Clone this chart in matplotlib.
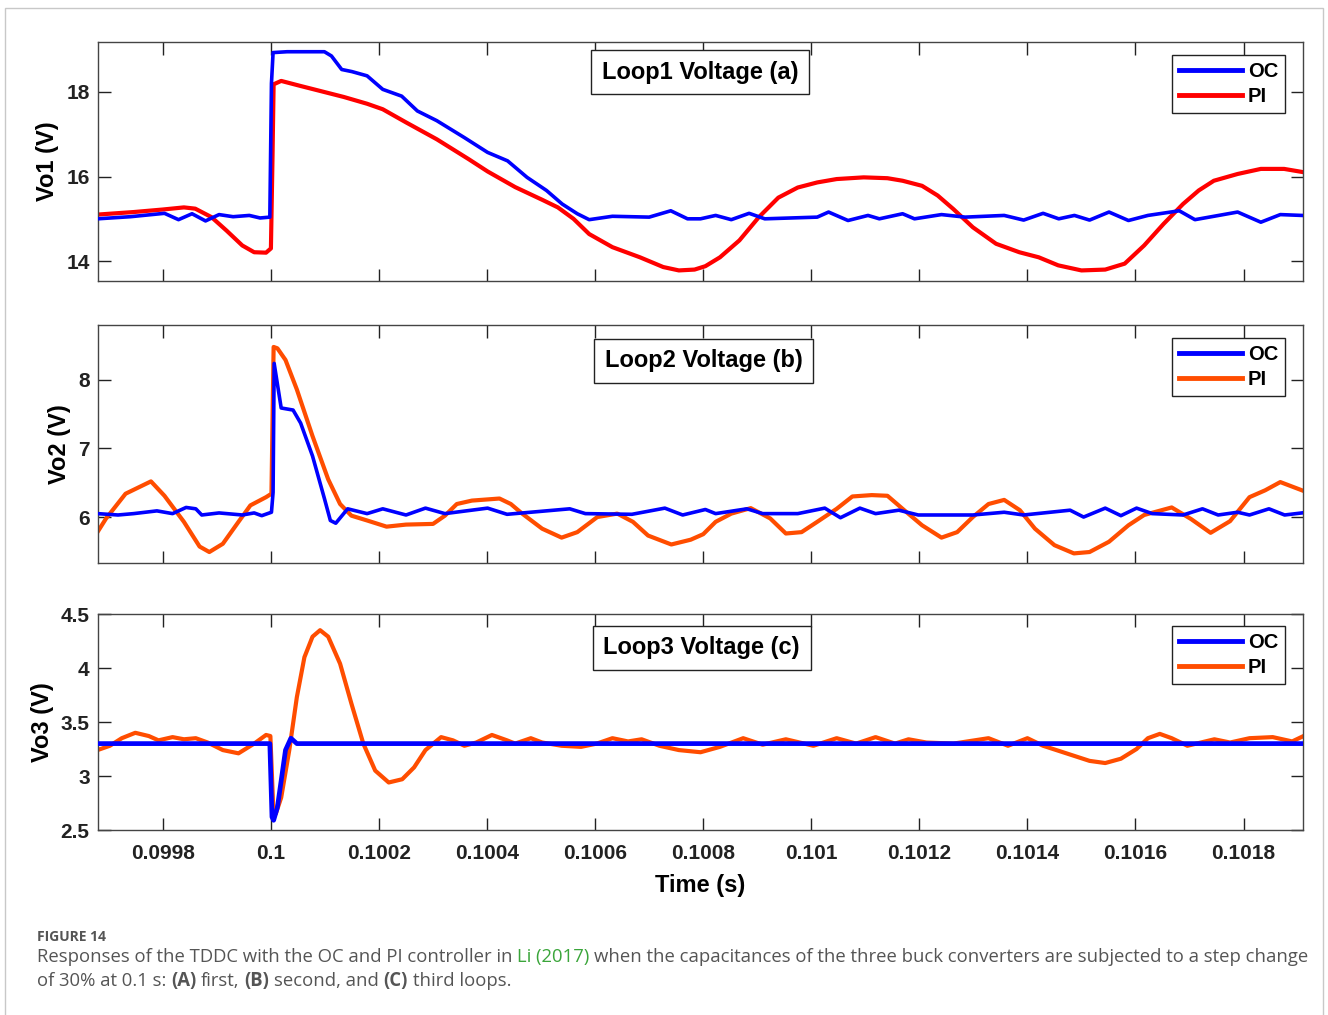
import matplotlib
matplotlib.use("Agg")
import matplotlib.pyplot as plt
from matplotlib.lines import Line2D
from matplotlib.patches import Rectangle
import numpy as np

# ---------------- data (time offsets in microseconds after t = 0.1 s) ----------------
STEP_TIME = 0.1

# Panel (a) Loop1
t1_oc_us = [-321, -260, -197, -171, -146, -121, -96, -70, -40, -20, -2, 1, 4, 30, 99, 112, 131, 150, 178,
            207, 242, 271, 307, 358, 401, 438, 474, 510, 539, 567, 589, 632, 700, 740, 771,
            795, 823, 852, 885, 914, 1011, 1032, 1068, 1105, 1126, 1169, 1191, 1241, 1285, 1357, 1393,
            1429, 1458, 1487, 1515, 1551, 1587, 1623, 1681, 1710, 1789, 1832, 1868, 1908]
v1_oc = [15.00, 15.05, 15.13, 14.98, 15.12, 14.95, 15.10, 15.05, 15.08, 15.02, 15.04, 18.20, 18.93, 18.95, 18.95,
         18.85, 18.53, 18.48, 18.38, 18.06, 17.90, 17.55, 17.32, 16.92, 16.57, 16.37, 15.98, 15.67, 15.35,
         15.12, 14.98, 15.06, 15.04, 15.19, 15.00,
         15.00, 15.08, 14.98, 15.13, 15.00, 15.04, 15.16, 14.96, 15.08, 15.00, 15.12, 15.00, 15.10, 15.04,
         15.08, 14.97, 15.13, 15.00, 15.08, 14.97, 15.16, 14.96, 15.08, 15.19, 14.98, 15.16, 14.92, 15.10, 15.08]

t1_pi_us = [-321, -254, -200, -161, -140, -110, -82, -53, -31, -9, 0, 3, 5, 19, 55, 92, 135, 178, 207, 250,
            307, 366, 401, 452, 502, 531, 560, 589, 632, 683, 726, 755, 784, 804,
            831, 867, 903, 939, 975, 1011, 1047, 1097, 1141, 1169, 1205, 1234, 1263, 1299, 1342, 1385,
            1421, 1457, 1500, 1544, 1580, 1616, 1652, 1688, 1717, 1745, 1789, 1832, 1875, 1912]
v1_pi = [15.10, 15.16, 15.22, 15.27, 15.24, 15.04, 14.72, 14.37, 14.21, 14.20, 14.30, 16.50, 18.18, 18.26,
         18.14, 18.02, 17.88, 17.72, 17.59, 17.28, 16.88, 16.41, 16.12, 15.75, 15.45, 15.27, 15.00, 14.64,
         14.33, 14.09, 13.86, 13.78, 13.80, 13.88,
         14.09, 14.49, 15.04, 15.50, 15.74, 15.86, 15.94, 15.98, 15.96, 15.90, 15.78, 15.55, 15.23, 14.80,
         14.41, 14.21, 14.09, 13.90, 13.78, 13.80, 13.94, 14.37, 14.88, 15.35, 15.67, 15.90, 16.06, 16.18,
         16.18, 16.10]

# Panel (b) Loop2
t2_oc_us = [-321, -283, -254, -211, -182, -157, -139, -128, -96, -53, -31, -17, 1, 4, 6, 19, 41, 55, 77, 99,
            110, 120, 142, 178, 207, 250, 286, 322, 401, 437, 553, 582, 668, 729, 762, 804,
            823, 881, 910, 975, 1025, 1054, 1090, 1119, 1162, 1198, 1299, 1357, 1393, 1479, 1504, 1544,
            1573, 1602, 1631, 1688, 1724, 1753, 1789, 1811, 1847, 1876, 1908]
v2_oc = [6.05, 6.03, 6.05, 6.09, 6.05, 6.14, 6.12, 6.03, 6.06, 6.03, 6.06, 6.02, 6.07, 6.36, 8.24, 7.59,
         7.56, 7.37, 6.89, 6.27, 5.95, 5.91, 6.12, 6.05, 6.12, 6.03, 6.13, 6.05, 6.13, 6.04, 6.12, 6.05,
         6.04, 6.13, 6.03, 6.11,
         6.05, 6.12, 6.05, 6.05, 6.13, 5.99, 6.13, 6.05, 6.10, 6.03, 6.03, 6.07, 6.03, 6.10, 6.00, 6.13,
         6.02, 6.13, 6.05, 6.03, 6.12, 6.03, 6.07, 6.03, 6.12, 6.03, 6.06]

t2_pi_us = [-321, -305, -269, -222, -197, -161, -132, -114, -89, -60, -38, -9, 1, 5, 12, 27, 48, 77, 106,
            128, 149, 178, 214, 250, 300, 322, 344, 372, 423, 444, 465, 502, 538, 567, 604, 641, 670,
            698, 741, 777, 800,
            823, 852, 888, 924, 953, 982, 1011, 1047, 1076, 1112, 1141, 1169, 1205, 1241, 1270, 1299,
            1328, 1357, 1386, 1414, 1450, 1486, 1515, 1551, 1587, 1616, 1667, 1703, 1739, 1775, 1811,
            1840, 1868, 1908]
v2_pi = [5.78, 5.98, 6.34, 6.52, 6.31, 5.93, 5.57, 5.49, 5.61, 5.93, 6.17, 6.29, 6.34, 8.48, 8.46, 8.29,
         7.86, 7.18, 6.55, 6.19, 6.02, 5.95, 5.86, 5.89, 5.90, 6.02, 6.19, 6.24, 6.27, 6.19, 6.05, 5.83,
         5.70, 5.78, 6.00, 6.05, 5.93, 5.73, 5.60, 5.67, 5.75,
         5.93, 6.05, 6.13, 5.98, 5.76, 5.78, 5.93, 6.12, 6.30, 6.32, 6.31, 6.12, 5.88, 5.70, 5.78, 6.00,
         6.19, 6.25, 6.10, 5.83, 5.59, 5.47, 5.49, 5.64, 5.88, 6.03, 6.14, 5.97, 5.77, 5.94, 6.29, 6.39,
         6.51, 6.39]

# Panel (c) Loop3
t3_oc_us = [-321, -200, -100, -2, 2, 5, 12, 27, 37, 48, 150, 400, 800, 1200, 1600, 1912]
v3_oc = [3.30, 3.30, 3.30, 3.30, 2.62, 2.59, 2.71, 3.24, 3.35, 3.30, 3.30, 3.30, 3.30, 3.30, 3.30, 3.30]

t3_pi_us = [-321, -298, -276, -251, -226, -208, -182, -161, -139, -117, -89, -60, -31, -9, -1, 4, 9, 19,
            34, 48, 62, 77, 91, 106, 128, 149, 171, 193, 218, 243, 265, 286, 315, 337, 358, 380, 409,
            437, 452, 481, 502, 538, 574, 603, 632, 661, 686, 719, 755, 795,
            831, 874, 910, 953, 1004, 1047, 1083, 1119, 1155, 1180, 1213, 1263, 1328, 1364, 1400, 1429,
            1472, 1515, 1544, 1573, 1602, 1623, 1645, 1667, 1696, 1746, 1775, 1811, 1854, 1890, 1911]
v3_pi = [3.24, 3.28, 3.35, 3.40, 3.37, 3.33, 3.36, 3.34, 3.35, 3.31, 3.24, 3.21, 3.30, 3.38, 3.37, 2.74,
         2.65, 2.80, 3.24, 3.73, 4.10, 4.29, 4.35, 4.29, 4.04, 3.67, 3.30, 3.05, 2.94, 2.97, 3.08, 3.24,
         3.36, 3.33, 3.28, 3.31, 3.38, 3.33, 3.30, 3.35, 3.31, 3.28, 3.27, 3.30, 3.35, 3.32, 3.34, 3.28,
         3.24, 3.22,
         3.27, 3.35, 3.29, 3.34, 3.28, 3.35, 3.30, 3.36, 3.30, 3.34, 3.31, 3.30, 3.35, 3.28, 3.35, 3.28,
         3.21, 3.14, 3.12, 3.16, 3.25, 3.35, 3.39, 3.35, 3.28, 3.34, 3.31, 3.35, 3.36, 3.32, 3.37]

x_ticks = [0.0998, 0.1, 0.1002, 0.1004, 0.1006, 0.1008, 0.101, 0.1012, 0.1014, 0.1016, 0.1018]
x_ticklabels = ["0.0998", "0.1", "0.1002", "0.1004", "0.1006", "0.1008", "0.101", "0.1012",
                "0.1014", "0.1016", "0.1018"]
y_ticks = [[14, 16, 18], [6, 7, 8], [2.5, 3, 3.5, 4, 4.5]]
y_ticklabels = [["14", "16", "18"], ["6", "7", "8"], ["2.5", "3", "3.5", "4", "4.5"]]
y_lims = [(13.53, 19.18), (5.33, 8.80), (2.5, 4.5)]
y_labels = ["Vo1 (V)", "Vo2 (V)", "Vo3 (V)"]
titles = ["Loop1 Voltage (a)", "Loop2 Voltage (b)", "Loop3 Voltage (c)"]
series_names = ["OC", "PI"]

BLUE = "#0000FF"
RED = "#FF0000"
ORANGE = "#FF4D00"

# ---------------- figure ----------------
W, H = 1328, 1015
fig = plt.figure(figsize=(W / 100, H / 100), dpi=100)
fig.patch.set_facecolor("white")
FONT = "Liberation Sans"


def fx(px):
    return px / W


def fy(py):
    return 1 - py / H


panel_px = [(42, 281), (325, 563), (614, 830)]
left_px, right_px = 98, 1303

data = [
    (t1_oc_us, v1_oc, t1_pi_us, v1_pi, RED),
    (t2_oc_us, v2_oc, t2_pi_us, v2_pi, ORANGE),
    (t3_oc_us, v3_oc, t3_pi_us, v3_pi, ORANGE),
]
title_pos = [(0.4996, 0.874), (0.5025, 0.849), (0.501, 0.843)]
oc_lw = [2.6, 2.6, 3.4]

for i, ((top, bot), (toc, voc, tpi, vpi, pic)) in enumerate(zip(panel_px, data)):
    ax = fig.add_axes([fx(left_px), fy(bot), fx(right_px) - fx(left_px), fy(top) - fy(bot)])
    t_oc = STEP_TIME + np.array(toc) * 1e-6
    t_pi = STEP_TIME + np.array(tpi) * 1e-6
    ax.plot(t_oc, voc, color=BLUE, lw=oc_lw[i], solid_joinstyle="round", zorder=3)
    ax.plot(t_pi, vpi, color=pic, lw=3.0, solid_joinstyle="round", zorder=2)
    ax.set_xlim(0.09968, 0.10191)
    ax.set_ylim(*y_lims[i])
    ax.set_xticks(x_ticks)
    ax.set_yticks(y_ticks[i])
    ax.set_yticklabels(y_ticklabels[i], fontfamily=FONT, fontweight="bold", fontsize=15)
    if i == 2:
        ax.set_xticklabels(x_ticklabels, fontfamily=FONT, fontweight="bold", fontsize=15)
        ax.set_xlabel("Time (s)", fontfamily=FONT, fontweight="bold", fontsize=17, labelpad=8)
    else:
        ax.set_xticklabels([])
    ax.tick_params(direction="in", length=9, width=1.0, top=True, right=True,
                   colors="#222222", pad=6)
    ax.tick_params(axis="x", pad=10)
    ax.set_ylabel(y_labels[i], fontfamily=FONT, fontweight="bold", fontsize=17, labelpad=5)
    for sp in ax.spines.values():
        sp.set_color("#444444")
        sp.set_linewidth(1.0)
    ax.text(title_pos[i][0], title_pos[i][1], titles[i], transform=ax.transAxes,
            ha="center", va="center", fontfamily=FONT, fontweight="bold", fontsize=17, zorder=5,
            bbox=dict(boxstyle="square,pad=0.45", fc="white", ec="#222222", lw=1.0))
    handles = [Line2D([], [], color=BLUE, lw=3.5), Line2D([], [], color=pic, lw=3.5)]
    leg = ax.legend(handles, series_names, loc="upper right", bbox_to_anchor=(0.985, 0.946),
                    borderaxespad=0, frameon=True, fancybox=False, framealpha=1,
                    prop=dict(family=FONT, weight="bold", size=14.5), handlelength=3.1,
                    handletextpad=0.3, labelspacing=0.3, borderpad=0.35)
    leg.get_frame().set_edgecolor("#222222")
    leg.get_frame().set_linewidth(1.0)
    leg.set_zorder(6)

# outer border
fig.patches.append(Rectangle((fx(5), -0.01), fx(1323) - fx(5), fy(8) + 0.01,
                             transform=fig.transFigure, fill=False, ec="#c8c8c8", lw=1.0))

# ---------------- caption ----------------
CAP_FONT = "Open Sans"
GRAY = "#555555"
GREEN = "#3aa53a"

fig.text(fx(37), fy(937), "FIGURE 14", fontfamily=CAP_FONT, fontweight="bold", fontsize=10,
         color=GRAY, va="center", ha="left")

renderer = fig.canvas.get_renderer()


def text_width(s, size, weight="normal"):
    t = fig.text(0, 0, s, fontfamily=CAP_FONT, fontsize=size, fontweight=weight)
    w = t.get_window_extent(renderer).width
    t.remove()
    return w


line1 = [("Responses of the TDDC with the OC and PI controller in", GRAY, "normal"),
         ("Li (2017)", GREEN, "normal"),
         ("when the capacitances of the three buck converters are subjected to a step change", GRAY, "normal")]
line2 = [("of 30% at 0.1 s:", GRAY, "normal"), ("(A)", GRAY, "bold"), ("first,", GRAY, "normal"),
         ("(B)", GRAY, "bold"), ("second, and", GRAY, "normal"), ("(C)", GRAY, "bold"),
         ("third loops.", GRAY, "normal")]

# choose size so line 1 spans the reference width
base = 12.0
sp_w = text_width("x x", base) - text_width("xx", base)
w1 = sum(text_width(s, base, wt) for s, c, wt in line1) + sp_w * (len(line1) - 1)
cap_size = base * (1304 - 37) / w1


def draw_line(runs, x0, y0, size):
    spw = text_width("x x", size) - text_width("xx", size)
    x = x0
    for s, c, wt in runs:
        t = fig.text(x / W, fy(y0), s, fontfamily=CAP_FONT, fontsize=size, fontweight=wt,
                     color=c, va="baseline", ha="left")
        x += t.get_window_extent(renderer).width + spw


draw_line(line1, 37, 962, cap_size)
draw_line(line2, 37, 986, cap_size)

fig.savefig("out.png", dpi=100, facecolor="white")
